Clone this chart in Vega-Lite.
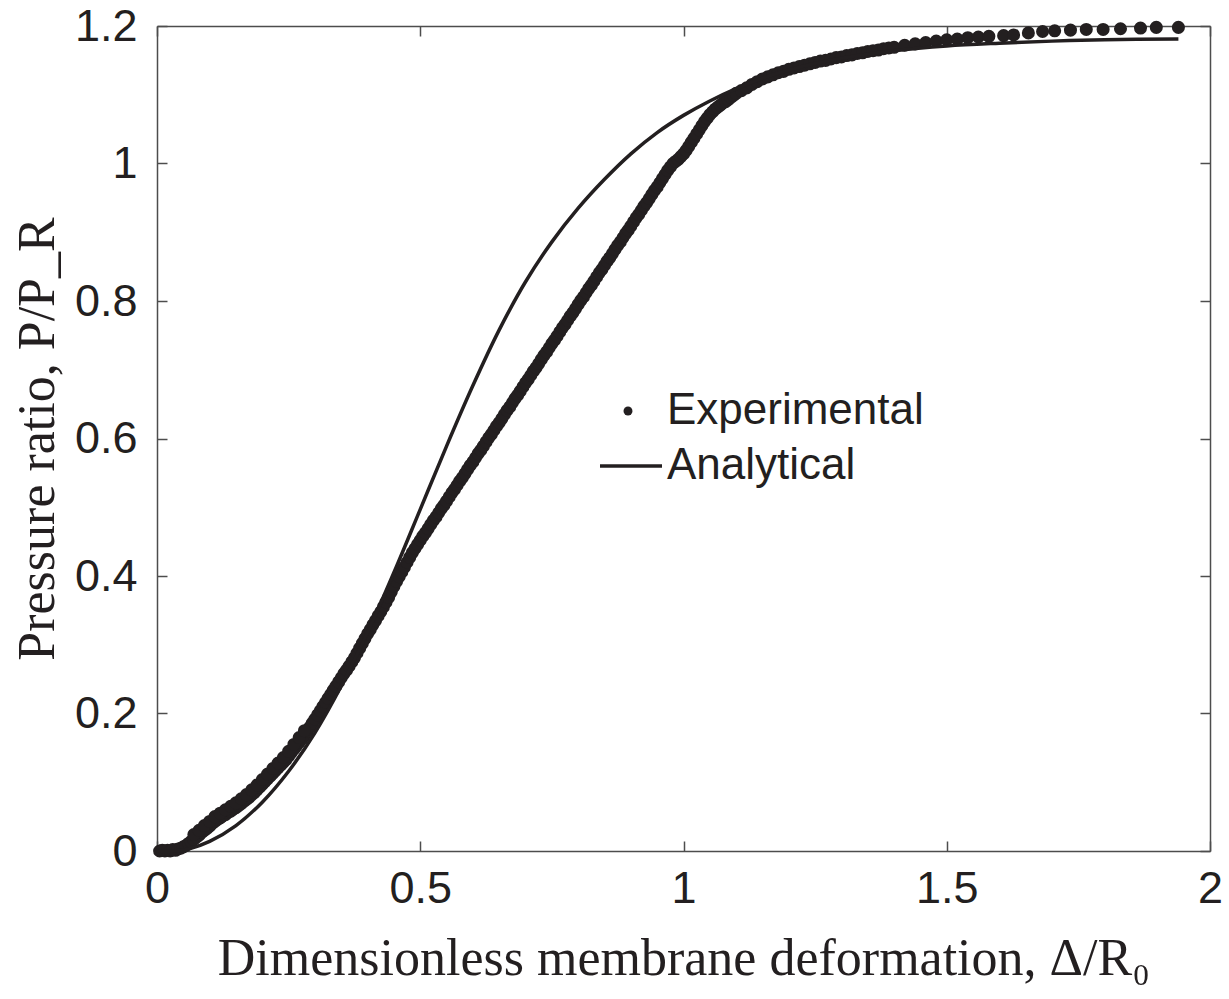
{
"$schema": "https://vega.github.io/schema/vega-lite/v6.json",
"width": 1053, "height": 825,
"autosize": {"type": "none"},
"padding": {"left": 157, "top": 26, "right": 19, "bottom": 148},
"background": "white",
"config": {
 "view": {"stroke": null},
 "axis": {"domainColor": "#4d4d4d", "domainWidth": 1.5, "tickColor": "#4d4d4d", "tickWidth": 1.5, "tickSize": -10, "grid": false,
  "labelFont": "Liberation Sans", "labelFontSize": 45, "labelColor": "#231f20", "labelFlush": false, "labelOverlap": false,
  "titleFont": "Liberation Serif", "titleFontSize": 52, "titleFontWeight": "normal", "titleColor": "#231f20"}
},
"datasets": {
 "exp": [
  {"x":0.005,"y":0},{"x":0.01,"y":0.001},{"x":0.015,"y":0},{"x":0.02,"y":0.001},{"x":0.025,"y":0},{"x":0.03,"y":0.002},{"x":0.035,"y":0.001},{"x":0.04,"y":0.003},{"x":0.045,"y":0.004},{"x":0.05,"y":0.006},{"x":0.055,"y":0.008},
  {"x":0.06,"y":0.011},{"x":0.065,"y":0.014},{"x":0.07,"y":0.017},{"x":0.075,"y":0.020},{"x":0.08,"y":0.023},{"x":0.085,"y":0.027},{"x":0.09,"y":0.030},{"x":0.095,"y":0.033},{"x":0.10,"y":0.036},{"x":0.105,"y":0.040},{"x":0.11,"y":0.043},{"x":0.115,"y":0.046},{"x":0.12,"y":0.048},{"x":0.125,"y":0.051},{"x":0.13,"y":0.053},{"x":0.135,"y":0.056},{"x":0.14,"y":0.058},{"x":0.145,"y":0.061},{"x":0.15,"y":0.063},{"x":0.155,"y":0.066},{"x":0.16,"y":0.069},{"x":0.165,"y":0.072},{"x":0.17,"y":0.075},{"x":0.175,"y":0.078},{"x":0.18,"y":0.082},{"x":0.185,"y":0.085},{"x":0.19,"y":0.089},{"x":0.195,"y":0.093},{"x":0.20,"y":0.097},{"x":0.205,"y":0.101},{"x":0.21,"y":0.105},{"x":0.215,"y":0.109},{"x":0.22,"y":0.113},{"x":0.225,"y":0.117},{"x":0.23,"y":0.121},{"x":0.235,"y":0.125},{"x":0.24,"y":0.129},{"x":0.245,"y":0.133},{"x":0.25,"y":0.138},{"x":0.255,"y":0.143},{"x":0.26,"y":0.148},{"x":0.265,"y":0.153},{"x":0.27,"y":0.158},{"x":0.275,"y":0.163},{"x":0.28,"y":0.168},{"x":0.285,"y":0.174},{"x":0.29,"y":0.180},{"x":0.295,"y":0.186},{"x":0.30,"y":0.192},{"x":0.305,"y":0.198},{"x":0.31,"y":0.204},{"x":0.315,"y":0.210},{"x":0.32,"y":0.216},{"x":0.325,"y":0.222},{"x":0.33,"y":0.228},{"x":0.335,"y":0.234},{"x":0.34,"y":0.240},{"x":0.345,"y":0.246},{"x":0.35,"y":0.252},{"x":0.355,"y":0.258},{"x":0.36,"y":0.263},{"x":0.365,"y":0.269},{"x":0.37,"y":0.275},{"x":0.375,"y":0.281},{"x":0.38,"y":0.288},{"x":0.385,"y":0.295},{"x":0.39,"y":0.302},{"x":0.395,"y":0.309},{"x":0.40,"y":0.316},{"x":0.405,"y":0.322},{"x":0.41,"y":0.329},{"x":0.415,"y":0.335},{"x":0.42,"y":0.342},{"x":0.425,"y":0.348},{"x":0.43,"y":0.355},{"x":0.435,"y":0.362},{"x":0.44,"y":0.369},{"x":0.445,"y":0.377},{"x":0.45,"y":0.385},
  {"x":0.07,"y":0.024},{"x":0.08,"y":0.030},{"x":0.09,"y":0.037},{"x":0.10,"y":0.043},{"x":0.11,"y":0.050},{"x":0.12,"y":0.055},{"x":0.13,"y":0.060},{"x":0.14,"y":0.065},{"x":0.15,"y":0.070},{"x":0.16,"y":0.076},{"x":0.17,"y":0.082},{"x":0.18,"y":0.089},{"x":0.19,"y":0.096},{"x":0.20,"y":0.104},{"x":0.21,"y":0.112},{"x":0.22,"y":0.120},{"x":0.23,"y":0.128},{"x":0.24,"y":0.136},{"x":0.25,"y":0.145},{"x":0.26,"y":0.155},{"x":0.27,"y":0.165},{"x":0.28,"y":0.175},
  {"x":0.455,"y":0.392},{"x":0.46,"y":0.399},{"x":0.465,"y":0.406},{"x":0.47,"y":0.413},{"x":0.475,"y":0.420},{"x":0.48,"y":0.427},{"x":0.485,"y":0.434},{"x":0.49,"y":0.440},{"x":0.495,"y":0.446},{"x":0.50,"y":0.452},{"x":0.505,"y":0.458},{"x":0.51,"y":0.463},{"x":0.515,"y":0.469},{"x":0.52,"y":0.475},{"x":0.525,"y":0.481},{"x":0.53,"y":0.486},{"x":0.535,"y":0.492},{"x":0.54,"y":0.498},{"x":0.545,"y":0.503},{"x":0.55,"y":0.509},{"x":0.555,"y":0.515},{"x":0.56,"y":0.521},{"x":0.565,"y":0.526},{"x":0.57,"y":0.532},{"x":0.575,"y":0.538},{"x":0.58,"y":0.543},{"x":0.585,"y":0.549},{"x":0.59,"y":0.555},{"x":0.595,"y":0.561},{"x":0.60,"y":0.566},{"x":0.605,"y":0.572},{"x":0.61,"y":0.578},{"x":0.615,"y":0.583},{"x":0.62,"y":0.589},{"x":0.625,"y":0.595},{"x":0.63,"y":0.601},{"x":0.635,"y":0.606},{"x":0.64,"y":0.612},{"x":0.645,"y":0.618},{"x":0.65,"y":0.623},{"x":0.655,"y":0.629},{"x":0.66,"y":0.635},{"x":0.665,"y":0.641},{"x":0.67,"y":0.646},{"x":0.675,"y":0.652},{"x":0.68,"y":0.658},{"x":0.685,"y":0.663},{"x":0.69,"y":0.669},{"x":0.695,"y":0.675},{"x":0.70,"y":0.681},{"x":0.705,"y":0.686},{"x":0.71,"y":0.692},{"x":0.715,"y":0.698},{"x":0.72,"y":0.703},{"x":0.725,"y":0.709},{"x":0.73,"y":0.715},{"x":0.735,"y":0.721},{"x":0.74,"y":0.726},{"x":0.745,"y":0.732},{"x":0.75,"y":0.738},{"x":0.755,"y":0.743},{"x":0.76,"y":0.749},{"x":0.765,"y":0.755},{"x":0.77,"y":0.761},{"x":0.775,"y":0.766},{"x":0.78,"y":0.772},{"x":0.785,"y":0.778},{"x":0.79,"y":0.783},{"x":0.795,"y":0.789},{"x":0.80,"y":0.795},{"x":0.805,"y":0.801},{"x":0.81,"y":0.806},{"x":0.815,"y":0.812},{"x":0.82,"y":0.818},{"x":0.825,"y":0.823},{"x":0.83,"y":0.829},{"x":0.835,"y":0.835},{"x":0.84,"y":0.841},{"x":0.845,"y":0.846},{"x":0.85,"y":0.852},{"x":0.855,"y":0.858},{"x":0.86,"y":0.863},{"x":0.865,"y":0.869},{"x":0.87,"y":0.875},{"x":0.875,"y":0.881},{"x":0.88,"y":0.886},{"x":0.885,"y":0.892},{"x":0.89,"y":0.898},{"x":0.895,"y":0.903},{"x":0.90,"y":0.909},{"x":0.905,"y":0.915},{"x":0.91,"y":0.921},{"x":0.915,"y":0.926},{"x":0.92,"y":0.932},{"x":0.925,"y":0.938},{"x":0.93,"y":0.943},{"x":0.935,"y":0.949},{"x":0.94,"y":0.955},{"x":0.945,"y":0.961},{"x":0.95,"y":0.966},{"x":0.955,"y":0.972},{"x":0.96,"y":0.978},{"x":0.965,"y":0.984},{"x":0.97,"y":0.990},{"x":0.975,"y":0.995},
  {"x":0.98,"y":1.000},{"x":0.985,"y":1.003},{"x":0.99,"y":1.006},{"x":0.995,"y":1.010},{"x":1.00,"y":1.014},{"x":1.005,"y":1.019},{"x":1.01,"y":1.025},{"x":1.015,"y":1.031},{"x":1.02,"y":1.037},{"x":1.025,"y":1.043},{"x":1.03,"y":1.049},{"x":1.035,"y":1.055},{"x":1.04,"y":1.061},{"x":1.045,"y":1.066},{"x":1.05,"y":1.071},{"x":1.055,"y":1.075},{"x":1.06,"y":1.079},{"x":1.065,"y":1.082},{"x":1.07,"y":1.085},{"x":1.075,"y":1.088},{"x":1.08,"y":1.090},{"x":1.085,"y":1.093},{"x":1.09,"y":1.096},{"x":1.095,"y":1.099},{"x":1.10,"y":1.102},
  {"x":1.11,"y":1.106},{"x":1.12,"y":1.110},{"x":1.13,"y":1.115},{"x":1.14,"y":1.119},{"x":1.15,"y":1.123},{"x":1.16,"y":1.126},{"x":1.17,"y":1.129},{"x":1.18,"y":1.132},{"x":1.19,"y":1.134},{"x":1.20,"y":1.137},{"x":1.21,"y":1.139},{"x":1.22,"y":1.141},{"x":1.23,"y":1.143},{"x":1.24,"y":1.145},{"x":1.25,"y":1.147},{"x":1.26,"y":1.149},{"x":1.27,"y":1.150},{"x":1.28,"y":1.152},{"x":1.29,"y":1.154},{"x":1.30,"y":1.155},{"x":1.31,"y":1.157},{"x":1.32,"y":1.158},{"x":1.33,"y":1.160},{"x":1.34,"y":1.161},{"x":1.35,"y":1.163},{"x":1.36,"y":1.164},{"x":1.37,"y":1.165},{"x":1.38,"y":1.167},{"x":1.39,"y":1.168},{"x":1.40,"y":1.169},
  {"x":1.42,"y":1.172},{"x":1.44,"y":1.174},{"x":1.46,"y":1.176},{"x":1.48,"y":1.178},{"x":1.50,"y":1.180},{"x":1.52,"y":1.181},{"x":1.54,"y":1.183},{"x":1.56,"y":1.184},{"x":1.58,"y":1.185},
  {"x":1.608,"y":1.186},{"x":1.627,"y":1.187},{"x":1.655,"y":1.190},{"x":1.682,"y":1.192},{"x":1.705,"y":1.193},{"x":1.735,"y":1.194},{"x":1.765,"y":1.195},{"x":1.797,"y":1.195},{"x":1.830,"y":1.196},{"x":1.868,"y":1.197},{"x":1.898,"y":1.198},{"x":1.940,"y":1.198}
 ],
 "ana": [
  {"x":0.0,"y":0},{"x":0.03,"y":0.0},{"x":0.06,"y":0.003},{"x":0.1,"y":0.014},{"x":0.15,"y":0.037},{"x":0.2,"y":0.071},{"x":0.25,"y":0.116},{"x":0.3,"y":0.172},{"x":0.35,"y":0.240},{"x":0.4,"y":0.318},{"x":0.45,"y":0.405},{"x":0.5,"y":0.497},{"x":0.55,"y":0.589},{"x":0.6,"y":0.677},{"x":0.65,"y":0.758},{"x":0.7,"y":0.828},{"x":0.75,"y":0.886},{"x":0.8,"y":0.935},{"x":0.85,"y":0.977},{"x":0.9,"y":1.014},{"x":0.95,"y":1.045},{"x":1.0,"y":1.070},{"x":1.05,"y":1.091},{"x":1.1,"y":1.109},{"x":1.15,"y":1.124},{"x":1.2,"y":1.136},{"x":1.3,"y":1.153},{"x":1.4,"y":1.164},{"x":1.5,"y":1.171},{"x":1.6,"y":1.175},{"x":1.7,"y":1.178},{"x":1.8,"y":1.180},{"x":1.94,"y":1.181}
 ]
},
"layer": [
 {
  "data": {"name": "exp"},
  "mark": {"type": "point", "filled": true, "size": 170, "color": "#231f20", "opacity": 1, "strokeWidth": 0, "clip": false},
  "encoding": {
   "x": {"field": "x", "type": "quantitative", "scale": {"domain": [0, 2], "nice": false},
    "axis": {"orient": "bottom", "values": [0, 0.5, 1, 1.5, 2], "format": "~g", "title": "Dimensionless membrane deformation, Δ/R₀", "labelPadding": 25, "titlePadding": 22}},
   "y": {"field": "y", "type": "quantitative", "scale": {"domain": [0, 1.2], "nice": false},
    "axis": {"orient": "left", "values": [0, 0.2, 0.4, 0.6, 0.8, 1, 1.2], "format": "~g", "title": "Pressure ratio, P/P_R", "labelPadding": 30, "titlePadding": 10}},
   "shape": {"datum": "Experimental", "scale": {"range": ["circle"]},
    "legend": {"orient": "none", "legendX": 449, "legendY": 363, "title": null, "symbolSize": 80, "symbolFillColor": "#231f20", "symbolStrokeColor": "#231f20", "symbolStrokeWidth": 0, "labelFont": "Liberation Sans", "labelFontSize": 44, "labelColor": "#231f20", "labelOffset": 17, "labelLimit": 0}}
  }
 },
 {
  "data": {"name": "ana"},
  "mark": {"type": "line", "strokeWidth": 3.5, "interpolate": "catmull-rom", "clip": false},
  "encoding": {
   "x": {"field": "x", "type": "quantitative", "scale": {"domain": [0, 2], "nice": false},
    "axis": {"orient": "top", "values": [0, 0.5, 1, 1.5, 2], "labels": false, "title": null}},
   "y": {"field": "y", "type": "quantitative", "scale": {"domain": [0, 1.2], "nice": false},
    "axis": {"orient": "right", "values": [0, 0.2, 0.4, 0.6, 0.8, 1, 1.2], "labels": false, "title": null}},
   "color": {"datum": "Analytical", "scale": {"range": ["#231f20"]},
    "legend": {"orient": "none", "legendX": 441, "legendY": 407, "title": null, "symbolType": "stroke", "symbolSize": 3844, "symbolStrokeWidth": 3.5, "symbolStrokeColor": "#231f20", "labelFont": "Liberation Sans", "labelFontSize": 44, "labelColor": "#231f20", "labelOffset": 3, "labelLimit": 0}}
  }
 }
],
"resolve": {"axis": {"x": "independent", "y": "independent"}}
}
